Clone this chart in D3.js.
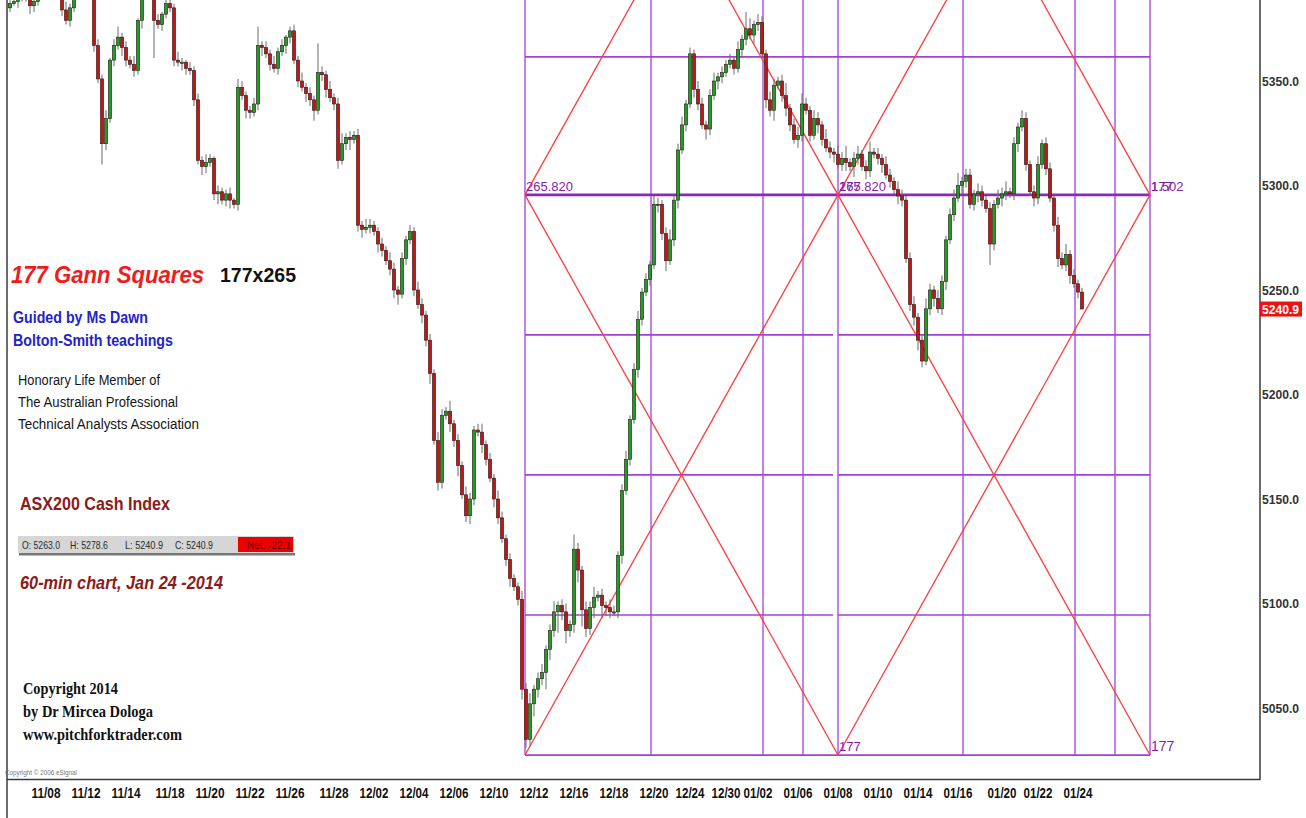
<!DOCTYPE html>
<html><head><meta charset="utf-8">
<script src="https://cdn.jsdelivr.net/npm/d3@7"></script>
<style>
html,body{margin:0;padding:0;background:#fff;}
svg{display:block;}
</style></head><body>
<svg id="c" width="1306" height="818"></svg>
<script>
// ---------- DATA ----------
const firstOpen = 5385;
const closes = [
5387,5388,5390,5392,5390,5386,5388,5392,5395,5396,5394,5395,5392,5384,5379,5385,5391,5395,5398,5396,
5392,5367,5351,5320,5332,5360,5367,5371,5366,5360,5358,5355,5379,5391,5396,5394,5379,5377,5382,5387,
5385,5360,5359,5359,5356,5355,5341,5312,5309,5311,5313,5296,5297,5293,5296,5293,5291,5347,5343,5336,
5335,5339,5367,5366,5363,5358,5356,5364,5367,5371,5374,5360,5350,5347,5344,5341,5336,5354,5353,5346,
5342,5339,5312,5320,5323,5322,5324,5281,5279,5280,5281,5278,5272,5269,5264,5260,5250,5248,5265,5274,
5278,5250,5243,5238,5226,5210,5178,5158,5190,5192,5186,5178,5166,5152,5142,5150,5183,5182,5176,5169,
5160,5150,5141,5131,5121,5112,5108,5102,5059,5035,5052,5059,5064,5067,5078,5087,5096,5099,5096,5087,
5090,5126,5116,5097,5088,5098,5103,5104,5099,5098,5096,5096,5123,5154,5169,5188,5212,5236,5249,5255,
5262,5291,5291,5277,5264,5274,5293,5317,5329,5339,5363,5346,5339,5329,5327,5343,5350,5352,5354,5358,
5360,5356,5365,5370,5375,5372,5377,5378,5363,5341,5336,5348,5350,5343,5337,5329,5322,5324,5339,5336,
5324,5332,5329,5322,5318,5316,5315,5310,5313,5311,5309,5313,5315,5309,5307,5316,5315,5313,5310,5305,
5302,5298,5295,5293,5265,5243,5237,5226,5216,5241,5250,5246,5241,5254,5274,5286,5294,5300,5302,5305,
5291,5296,5297,5293,5289,5272,5291,5294,5296,5297,5296,5320,5328,5332,5310,5297,5294,5310,5320,5308,
5294,5281,5265,5262,5267,5257,5253,5249,5240.9];
const wickUp = [
2,3,2,1,3,4,2,1,2,3,2,1,3,2,4,2,1,2,3,2,
1,2,3,2,4,1,3,5,2,3,2,4,1,2,3,2,2,3,1,2,
3,2,4,2,1,3,2,3,2,4,2,1,3,2,2,3,1,4,3,2,
2,3,9,2,3,2,4,2,3,1,2,3,2,4,2,3,2,14,3,2,
4,2,3,5,2,3,2,3,2,4,3,2,2,3,2,4,3,2,3,2,
3,2,4,3,2,3,2,4,3,2,5,2,3,2,4,3,2,3,4,2,
3,2,4,3,2,3,2,2,4,3,5,2,3,4,2,3,5,2,3,4,
2,7,3,2,4,3,5,2,3,2,4,3,2,3,4,2,3,4,2,3,
2,4,3,2,3,5,2,3,4,2,3,2,4,3,2,3,4,2,3,2,
3,2,4,2,8,5,2,4,3,2,4,3,2,3,6,2,3,4,5,3,
2,4,3,2,5,3,2,4,3,6,2,3,4,2,3,5,2,3,2,4,
3,2,4,3,2,3,4,2,3,5,3,2,4,3,2,3,4,6,2,3,
3,2,4,3,2,3,2,4,3,5,2,3,2,4,3,2,3,4,2,3,
3,2,4,3,5,2,3,2,2];
const wickDn = [
2,1,3,2,2,4,3,2,1,3,2,3,2,3,2,3,2,1,2,3,
2,3,2,10,3,2,3,2,4,3,2,3,2,4,2,3,18,2,3,2,
2,3,2,4,3,2,3,2,4,3,2,3,5,2,3,4,2,3,2,4,
3,2,3,4,2,3,2,3,2,4,3,2,3,2,4,3,5,2,3,4,
2,3,4,2,3,5,2,3,4,2,3,2,4,3,2,3,4,5,2,3,
2,3,2,4,3,5,2,4,3,2,4,3,5,2,3,4,3,2,4,3,
2,4,3,2,3,4,2,3,5,4,3,6,4,3,8,5,3,10,4,6,
3,4,6,8,4,3,5,2,6,4,3,2,3,4,2,3,2,4,3,2,
3,2,4,3,5,2,3,4,2,3,2,4,3,2,5,3,2,4,3,2,
2,3,2,4,3,2,4,3,2,4,3,5,2,3,4,3,2,4,3,2,
3,2,4,3,2,3,4,2,3,4,2,5,3,2,4,3,2,3,4,2,
3,2,4,3,2,3,4,5,3,2,3,4,2,3,4,2,3,2,4,3,
2,3,4,3,2,10,3,2,4,3,2,3,4,2,3,2,4,3,2,3,
2,3,4,2,3,4,2,3,0];
const tickLabels = ["11/08","11/12","11/14","11/18","11/20","11/22","11/26","11/28","12/02","12/04","12/06","12/10","12/12","12/16","12/18","12/20","12/24","12/30","01/02","01/06","01/08","01/10","01/14","01/16","01/20","01/22","01/24"];
const tickBars = [9,19,29,40,50,60,70,81,91,101,111,121,131,141,151,161,170,179,187,197,207,217,227,237,248,257,267];
const priceTicks = [5050,5100,5150,5200,5250,5300,5350];
const lastPrice = 5240.9;
// Gann squares 177 x 265.820
const squareCorners = [128.75, 207, 285];   // bar indices of square edges
const squareTop = 5295.5, squareBottom = 5027.5;
const gannLevels = [5361.5, 5295.5, 5228.5, 5161.5, 5094.5, 5027.5];
const gannTimes = [128.75, 160.25, 188.25, 198.25, 207, 238.25, 266.25, 276.25, 285];
const quoteLabels = ["O: 5263.0","H: 5278.6","L: 5240.9","C: 5240.9"];
const netLabel = "Net: -22.1";

// ---------- CHART ----------
const svg = d3.select("#c");
const plot = {left:7, right:1260, top:0, bottom:779};
const x = d3.scaleLinear().domain([0, closes.length-1]).range([10, 1082]);
const y = d3.scaleLinear().domain([5050,5350]).range([708,81]);
const SANS = "'Liberation Sans', Arial, sans-serif";
const NARROW = "'Liberation Sans Narrow','Arial Narrow','Liberation Sans',Arial,sans-serif";
const SERIF = "'Liberation Serif','Times New Roman',serif";

svg.append("defs").append("clipPath").attr("id","clip").append("rect")
  .attr("x",plot.left).attr("y",plot.top)
  .attr("width",plot.right-plot.left).attr("height",plot.bottom-plot.top);
const g = svg.append("g").attr("clip-path","url(#clip)");

const [t0,t1,t2] = squareCorners;
// vertical time lines
g.selectAll("line.gv").data(gannTimes).join("line").attr("class","gv")
  .attr("x1",d=>x(d)).attr("x2",d=>x(d))
  .attr("y1",plot.top).attr("y2",y(squareBottom))
  .attr("stroke","#b862e0").attr("stroke-width",1.6);
// horizontal price levels
const hSegs = [];
gannLevels.forEach((lv,k)=>{
  if (k>=2 && k<=4) { hSegs.push({lv,a:t0,b:t1,gap:5,k}); hSegs.push({lv,a:t1,b:t2,gap:0,k}); }
  else hSegs.push({lv,a:t0,b:t2,gap:0,k});
});
g.selectAll("line.gh").data(hSegs).join("line").attr("class","gh")
  .attr("x1",d=>x(d.a)).attr("x2",d=>x(d.b)-d.gap)
  .attr("y1",d=>y(d.lv)).attr("y2",d=>y(d.lv))
  .attr("stroke",d=>d.k===1?"#8a28bc":"#a53fd6")
  .attr("stroke-width",d=>d.k===1?2.8:1.7);
// diagonals
const apexP = squareTop + (squareTop-squareBottom)/2;
const diags = [
  [[t0,squareBottom],[t1,squareTop]],
  [[t0,squareTop],[t1,squareBottom]],
  [[t1,squareBottom],[t2,squareTop]],
  [[t1,squareTop],[t2,squareBottom]],
  [[t0,squareTop],[(t0+t1)/2,apexP]],
  [[t1,squareTop],[(t0+t1)/2,apexP]],
  [[t1,squareTop],[(t1+t2)/2,apexP]],
  [[t2,squareTop],[(t1+t2)/2,apexP]]
];
g.selectAll("line.gd").data(diags).join("line").attr("class","gd")
  .attr("x1",d=>x(d[0][0])).attr("y1",d=>y(d[0][1]))
  .attr("x2",d=>x(d[1][0])).attr("y2",d=>y(d[1][1]))
  .attr("stroke","#ff3b3b").attr("stroke-width",1.3);

// candles
const bars = closes.map((c,i)=>{
  const o = i===0 ? firstOpen : closes[i-1];
  return {i,o,c,h:Math.max(o,c)+(wickUp[i]||0),l:Math.min(o,c)-(wickDn[i]||0)};
});
const cg = g.append("g");
cg.selectAll("line.wk").data(bars).join("line").attr("class","wk")
  .attr("x1",d=>x(d.i)).attr("x2",d=>x(d.i))
  .attr("y1",d=>y(d.h)).attr("y2",d=>y(d.l))
  .attr("stroke","#6a6a6a").attr("stroke-width",1);
cg.selectAll("rect.bd").data(bars).join("rect").attr("class","bd")
  .attr("x",d=>x(d.i)-1.6).attr("width",3.2)
  .attr("y",d=>y(Math.max(d.o,d.c)))
  .attr("height",d=>Math.max(1.2, Math.abs(y(d.o)-y(d.c))))
  .attr("fill",d=>d.c>=d.o?"#1f9e24":"#c41414")
  .attr("stroke","#2a1a1a").attr("stroke-width",0.6);

// gann labels (the reference prints some of them on top of each other)
const lab = (s,xx,yy,fs)=>svg.append("text").attr("x",xx).attr("y",yy).text(s)
  .attr("font-family",SANS).attr("font-size",fs).attr("fill","#7f1fa8");
lab("265.820", x(t0)+1, y(squareTop)-4, 13);
lab("265.820", x(t1)+1, y(squareTop)-4, 13);
lab("177", x(t1)+1, y(squareTop)-4, 13);
lab("1.502", x(t2)+1, y(squareTop)-4, 13);
lab("177", x(t2)+1, y(squareTop)-4, 13);
lab("177", x(t1)+1, y(squareBottom)-4, 13);
lab("177", x(t2)+1, y(squareBottom)-4, 14);

// frame
svg.append("line").attr("x1",7).attr("x2",7).attr("y1",0).attr("y2",818).attr("stroke","#3a3a3a").attr("stroke-width",1.5);
svg.append("line").attr("x1",7).attr("x2",1260.5).attr("y1",779.5).attr("y2",779.5).attr("stroke","#3a3a3a").attr("stroke-width",1.5);
svg.append("line").attr("x1",1260).attr("x2",1260).attr("y1",0).attr("y2",779.5).attr("stroke","#3a3a3a").attr("stroke-width",1.5);

// y axis labels
svg.append("g").selectAll("text").data(priceTicks).join("text")
  .attr("x",1262).attr("y",d=>y(d)+4.5).text(d=>d.toFixed(1))
  .attr("font-family",SANS).attr("font-weight","bold").attr("font-size",12)
  .attr("textLength",37).attr("lengthAdjust","spacingAndGlyphs").attr("fill","#333");
svg.append("rect").attr("x",1260).attr("y",y(lastPrice)-7.5).attr("width",42).attr("height",15).attr("fill","#ee1111");
svg.append("text").attr("x",1262).attr("y",y(lastPrice)+4.5).text(lastPrice.toFixed(1))
  .attr("font-family",SANS).attr("font-weight","bold").attr("font-size",12)
  .attr("textLength",37).attr("lengthAdjust","spacingAndGlyphs").attr("fill","#fff");

// x axis labels
svg.append("g").selectAll("text").data(tickLabels).join("text")
  .attr("x",(d,i)=>x(tickBars[i])).attr("y",798).attr("text-anchor","middle").text(d=>d)
  .attr("font-family",NARROW).attr("font-weight","bold").attr("font-size",14)
  .attr("textLength",29).attr("lengthAdjust","spacingAndGlyphs").attr("fill","#111");

// annotation texts
function T(s,xx,yy,o){
  const t = svg.append("text").attr("x",xx).attr("y",yy).text(s)
    .attr("font-family",o.ff||SANS).attr("font-size",o.fs).attr("fill",o.fill||"#111");
  if(o.bold) t.attr("font-weight","bold");
  if(o.italic) t.attr("font-style","italic");
  if(o.len) t.attr("textLength",o.len).attr("lengthAdjust","spacingAndGlyphs");
  return t;
}
T("177 Gann Squares",11,283,{fs:23,bold:1,italic:1,fill:"#ee1c1c",len:193});
T("177x265",220,282,{fs:21,bold:1,fill:"#111",len:76});
T("Guided by Ms Dawn",13,323,{fs:16,bold:1,fill:"#2323cc",len:135});
T("Bolton-Smith teachings",13,346,{fs:16,bold:1,fill:"#2323cc",len:160});
T("Honorary Life Member of",18,385,{fs:14,fill:"#151515",len:142});
T("The Australian Professional",18,407,{fs:14,fill:"#151515",len:160});
T("Technical Analysts Association",18,429,{fs:14,fill:"#151515",len:181});
T("ASX200 Cash Index",20,510,{fs:19,bold:1,fill:"#8b1a1a",len:150});
// quote bar
svg.append("rect").attr("x",19).attr("y",553).attr("width",276).attr("height",2.5).attr("fill","#777");
svg.append("rect").attr("x",18).attr("y",536).attr("width",276).attr("height",17).attr("fill","#d6d6d6");
svg.append("rect").attr("x",238).attr("y",537).attr("width",55).attr("height",15).attr("fill","#ee0000");
const qx = [22,70,125,175];
quoteLabels.forEach((s,i)=>T(s,qx[i],549,{fs:10.5,fill:"#2a2a2a",len:38}));
T(netLabel,247,549,{fs:10.5,fill:"#5a0000",len:44});
T("60-min chart, Jan 24 -2014",20,589,{fs:19,bold:1,italic:1,fill:"#8b1a1a",len:203});
T("Copyright 2014",23,694,{fs:17,bold:1,ff:SERIF,fill:"#111",len:95});
T("by Dr Mircea Dologa",23,717,{fs:17,bold:1,ff:SERIF,fill:"#111",len:130});
T("www.pitchforktrader.com",23,740,{fs:17,bold:1,ff:SERIF,fill:"#111",len:159});
T("Copyright \u00A9 2006 eSignal",5,775,{fs:8,fill:"#777",len:72});
</script>
</body></html>
